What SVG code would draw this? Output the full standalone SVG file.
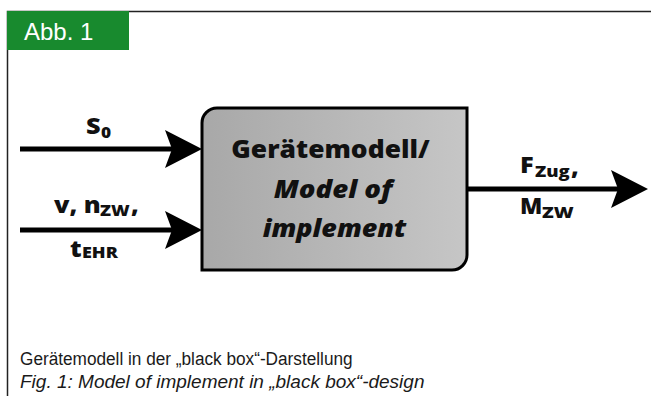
<svg xmlns="http://www.w3.org/2000/svg" width="651" height="396" viewBox="0 0 651 396">
  <style>
    .frame { stroke: #222; stroke-width: 1.5; fill: none; }
    .conn { stroke: #000; stroke-width: 5; fill: none; }
    .lbl { font-family: "Open Sans", "DejaVu Sans", sans-serif; font-weight: 800; fill: #111; }
    .main { font-size: 22px; }
    .sub { font-size: 15px; }
    .omain { font-size: 22px; }
    .osub { font-size: 16px; }
    .box-t { font-size: 24px; text-anchor: middle; }
    .it { font-style: italic; }
    .cap { font-family: "Liberation Sans", Arial, sans-serif; font-size: 19px; fill: #1a1a1a; }
  </style>
  <defs>
    <linearGradient id="boxfill" x1="0" y1="0" x2="1" y2="0">
      <stop offset="0" stop-color="#a8a8a8"/>
      <stop offset="1" stop-color="#c6c6c6"/>
    </linearGradient>
    <marker id="arr" markerUnits="userSpaceOnUse" markerWidth="38" markerHeight="38" viewBox="0 0 37 38" refX="25" refY="19" orient="auto">
      <path d="M0,0 L37,19 L0,38 L7,19 Z" fill="#000"/>
    </marker>
  </defs>

  <rect width="651" height="396" fill="#fff"/>

  <g id="frame">
    <path class="frame" d="M7.5,396 V11.5 H651"/>
    <rect x="7" y="11" width="122" height="39" fill="#188a2e"/>
    <text x="24" y="40" font-family="Liberation Sans, Arial, sans-serif" font-size="24" fill="#fff">Abb. 1</text>
  </g>

  <g id="connectors">
    <line class="conn" x1="20" y1="149" x2="190" y2="149" marker-end="url(#arr)"/>
    <line class="conn" x1="20" y1="230" x2="190" y2="230" marker-end="url(#arr)"/>
    <line class="conn" x1="468" y1="189" x2="636" y2="189" marker-end="url(#arr)"/>
  </g>

  <g id="in-s0">
    <text class="lbl main" transform="translate(86,134) scale(1.15,1)">S</text>
    <text class="lbl sub" transform="translate(101,138) scale(1.15,1)">0</text>
  </g>

  <g id="in-v">
    <text class="lbl main" transform="translate(54,213) scale(1.15,1)">v, n</text>
    <text class="lbl sub" transform="translate(100,216) scale(1.2,1)">ZW</text>
    <text class="lbl main" transform="translate(131,213) scale(1.15,1)">,</text>
    <text class="lbl main" transform="translate(70,257) scale(1.15,1)">t</text>
    <text class="lbl sub" transform="translate(82,258) scale(1.2,1)">EHR</text>
  </g>

  <g id="model">
    <path d="M202,123 A15,15 0 0 1 217,108 H467 V255 A15,15 0 0 1 452,270 H202 Z" fill="url(#boxfill)" stroke="#000" stroke-width="3"/>
    <text class="lbl box-t" transform="translate(330.5,158) scale(1.1,1)">Gerätemodell/</text>
    <text class="lbl box-t it" transform="translate(333,198) scale(1.15,1)">Model of</text>
    <text class="lbl box-t it" transform="translate(334.5,237) scale(1.12,1)">implement</text>
  </g>

  <g id="out">
    <text class="lbl omain" transform="translate(520,173) scale(1.15,1)">F</text>
    <text class="lbl osub" transform="translate(535,177) scale(1.15,1)">Zug</text>
    <text class="lbl omain" transform="translate(571,175) scale(1.15,1)">,</text>
    <text class="lbl omain" transform="translate(520,214) scale(1.05,1)">M</text>
    <text class="lbl osub" transform="translate(542,218) scale(1.2,1)">ZW</text>
  </g>

  <g id="caption">
    <text class="cap" transform="translate(20,365) scale(0.906,1)">Gerätemodell in der „black box“-Darstellung</text>
    <text class="cap it" transform="translate(20,388) scale(1.0,1)">Fig. 1: Model of implement in „black box“-design</text>
  </g>
</svg>
